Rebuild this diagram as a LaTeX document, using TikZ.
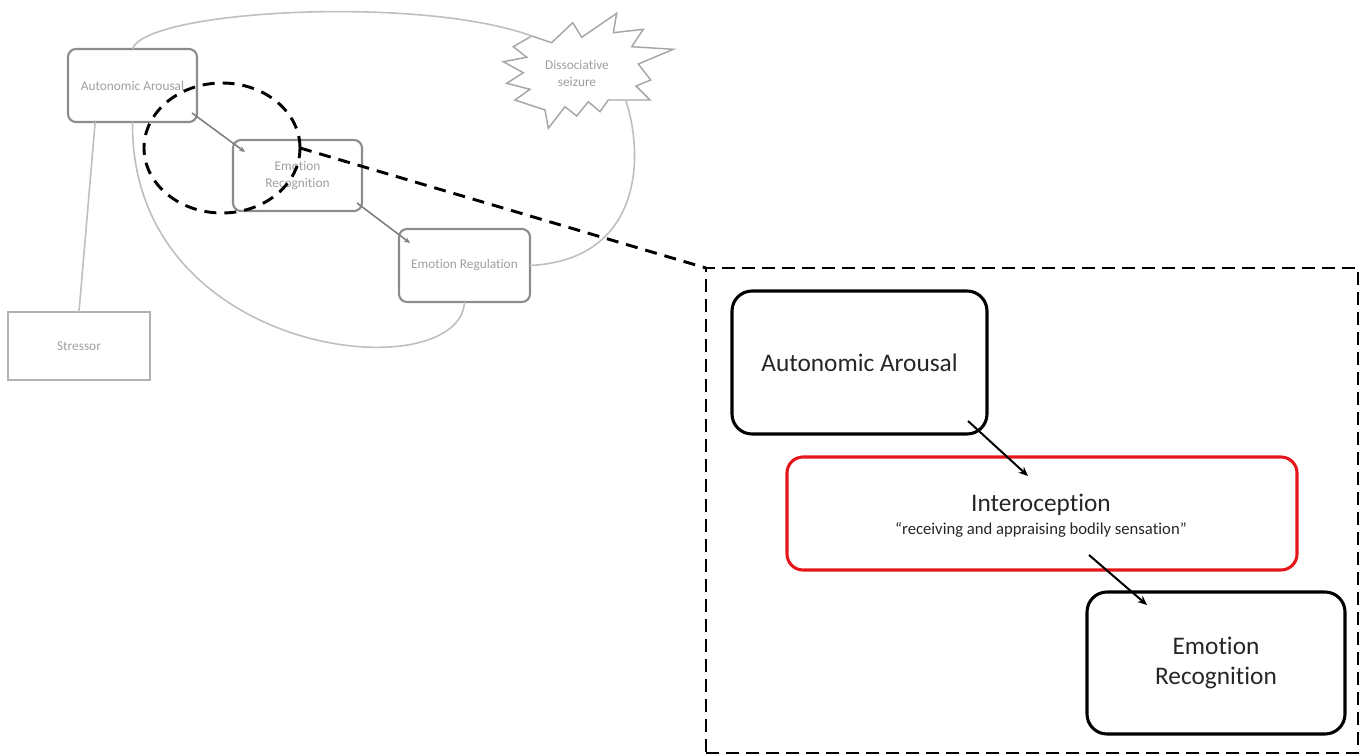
\documentclass[tikz,border=0pt]{standalone}
\usepackage{fontspec}
\setmainfont[Ligatures={NoCommon}]{Carlito}
\usetikzlibrary{arrows.meta,shapes.geometric,calc}
\definecolor{boxred}{RGB}{228,22,28}
\begin{document}
\begin{tikzpicture}[x=0.75pt,y=-0.75pt,
  sbox/.style={draw=black!45, line width=1.6pt, rounded corners=6pt, inner sep=0pt, outer sep=0pt,
    text=black!38, font=\fontsize{10}{12.5}\selectfont, align=center},
  stext/.style={text=black!38, font=\fontsize{10}{12.75}\selectfont, align=center, inner sep=0pt},
  bbox/.style={draw=black, line width=2.3pt, rounded corners=15pt, inner sep=0pt, outer sep=0pt,
    text=black!85, font=\fontsize{19}{22.5}\selectfont, align=center},
  btext/.style={text=black!85, font=\fontsize{19}{22.5}\selectfont, inner sep=0pt},
  loopline/.style={draw=black!25, line width=1.2pt},
  sarrow/.style={draw=black!50, line width=1.2pt, -{Stealth[length=4.5pt,width=4pt]}},
  barrow/.style={draw=black, line width=1.5pt, -{Stealth[length=7pt,width=6pt]}},
  zdash/.style={draw=black, line width=2.2pt, dash pattern=on 9pt off 6pt},
]
\useasboundingbox (0,0) rectangle (1370,756);

% small diagram boxes
\node[sbox, minimum width=96.75pt, minimum height=54.75pt] (sAA) at (132.5,85.5) {Autonomic Arousal};
\node[sbox, minimum width=96.75pt, minimum height=53.25pt] (sER) at (297.5,175.5) {Emotion\\Recognition};
\node[sbox, minimum width=98.25pt, minimum height=54.75pt] (sEReg) at (464.5,265.5) {Emotion Regulation};
\node[draw=black!30, line width=1.3pt, inner sep=0pt, outer sep=0pt, text=black!38,
      font=\fontsize{10}{12.5}\selectfont, minimum width=106.5pt, minimum height=51pt] (sStr) at (79,346) {Stressor};

% starburst
\coordinate (burstL) at (531.7,36);
\coordinate (burstB) at (626,101);
\draw[draw=black!35, line width=1.1pt, line join=miter]
  (531.7,36) -- (551.7,42.7) -- (572.7,22.7) -- (581.7,37.3) -- (616.7,13.3) -- (613.3,32.7)
  -- (643.3,29.3) -- (631.7,46.7) -- (673.3,49.3) -- (638.3,64) -- (650.7,80) -- (636,86)
  -- (650,100) -- (626.7,100) -- (608.3,100) -- (600,111.7) -- (588.3,101.7) -- (576.7,116)
  -- (565,106.7) -- (548.3,128.3) -- (545,110) -- (515,100) -- (530,89.3) -- (506.7,83.3)
  -- (523.3,72.7) -- (503.3,61.7) -- (526.7,57.3) -- (513.3,46.7) -- cycle;
\node[stext] (seizureT) at (577,73.5) {Dissociative\\seizure};

% loops and links
\draw[loopline] (sAA.north) .. controls (145,10) and (420,-5) .. (burstL);
\draw[loopline] (burstB) .. controls (645,160) and (640,260) .. (sEReg.east);
\draw[loopline] (sAA.south) .. controls (130,360) and (460,390) .. (sEReg.south);
\draw[loopline] (sStr.north) -- ([xshift=-28pt]sAA.south);
\draw[sarrow] ([shift={(-5,-9)}]sAA.south east) -- ([shift={(12,12)}]sER.north west);
\draw[sarrow] ([shift={(-5,-8)}]sER.south east) -- ([shift={(11,14)}]sEReg.north west);

% zoomed panel
\node[draw=black, line width=2.2pt, dash pattern=on 9.5pt off 5.5pt, inner sep=0pt, outer sep=0pt,
      minimum width=489pt, minimum height=363.75pt] (zoom) at (1032,510.5) {};
\node[bbox, minimum width=191.25pt, minimum height=107.25pt] (bAA) at (859.5,362.5) {Autonomic Arousal};
\node[draw=boxred, line width=2.3pt, rounded corners=12pt, inner sep=0pt, outer sep=0pt,
      minimum width=382.5pt, minimum height=84.75pt] (intero) at (1042,513.5) {};
\node[btext] (interoTitle) at (1041,505) {Interoception};
\node[text=black!85, font=\fontsize{12.5}{15}\selectfont, inner sep=0pt] (interoSub) at (1041,530)
  {“receiving and appraising bodily sensation”};
\node[bbox, minimum width=193.5pt, minimum height=106.5pt] (bER) at (1216,663) {Emotion\\Recognition};
\draw[barrow] ([shift={(-19,-13)}]bAA.south east) -- ([shift={(-14,19)}]intero.north);
\draw[barrow] ([shift={(47,-15)}]intero.south) -- ([shift={(-69,13)}]bER.north);

% lens and leader
\node[ellipse, zdash, minimum width=117pt, minimum height=97.5pt, inner sep=0pt, outer sep=0pt] (lens) at (222,148) {};
\draw[zdash] (lens.east) -- (zoom.north west);
\end{tikzpicture}
\end{document}
